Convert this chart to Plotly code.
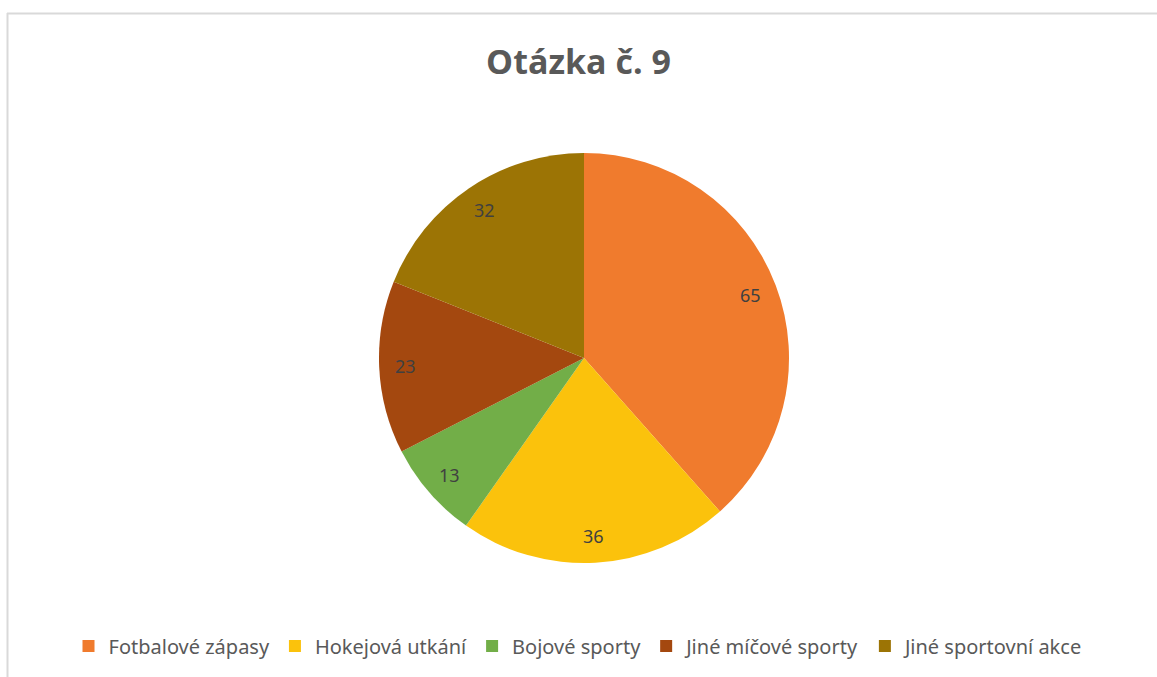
import math
import plotly.graph_objects as go

categories = ["Fotbalové zápasy", "Hokejová utkání", "Bojové sporty", "Jiné míčové sporty", "Jiné sportovní akce"]
values = [65, 36, 13, 23, 32]
colors = ["#F07B2D", "#FBC20C", "#72AE48", "#A4480F", "#9C7405"]

W, H = 1157, 677
cx, cy, r = 584, 358, 205
label_frac = 0.87

fig = go.Figure(go.Pie(
    labels=categories,
    values=values,
    sort=False,
    direction="clockwise",
    rotation=0,
    marker=dict(colors=colors, line=dict(width=0)),
    textinfo="none",
    hoverinfo="label+value",
    domain=dict(x=[(cx - r) / W, (cx + r) / W], y=[1 - (cy + r) / H, 1 - (cy - r) / H]),
))

# data labels placed along each slice's mid-angle
total = sum(values)
annotations = []
cum = 0
for v in values:
    mid = (cum + v / 2) / total * 2 * math.pi
    cum += v
    px = cx + label_frac * r * math.sin(mid)
    py = cy - label_frac * r * math.cos(mid)
    annotations.append(dict(x=px / W, y=1 - py / H, xref="paper", yref="paper", text=str(v),
                            xanchor="center", yanchor="middle",
                            showarrow=False, font=dict(family="Noto Sans", size=18, color="#404040")))

fig.update_layout(
    width=W, height=H,
    margin=dict(l=0, r=0, t=0, b=0),
    paper_bgcolor="white",
    title=dict(text="<b>Otázka č. 9</b>", x=0.5, xanchor="center", y=1 - 62 / H, yanchor="middle",
               font=dict(family="Open Sans", size=34, color="#595959")),
    legend=dict(orientation="h", x=0.5, xanchor="center", y=1 - 646 / H, yanchor="middle",
                font=dict(family="Noto Sans", size=20, color="#595959"),
                itemwidth=30, tracegroupgap=0),
    showlegend=True,
    annotations=annotations,
    shapes=[
        dict(type="line", xref="paper", yref="paper", x0=7 / W, x1=1, y0=1 - 13.5 / H, y1=1 - 13.5 / H,
             line=dict(color="#D9D9D9", width=2)),
        dict(type="line", xref="paper", yref="paper", x0=7.5 / W, x1=7.5 / W, y0=0, y1=1 - 13 / H,
             line=dict(color="#D9D9D9", width=2)),
    ],
)

fig.write_html("out.html", config={"displayModeBar": False},
               post_script="document.body.style.margin='0';")
